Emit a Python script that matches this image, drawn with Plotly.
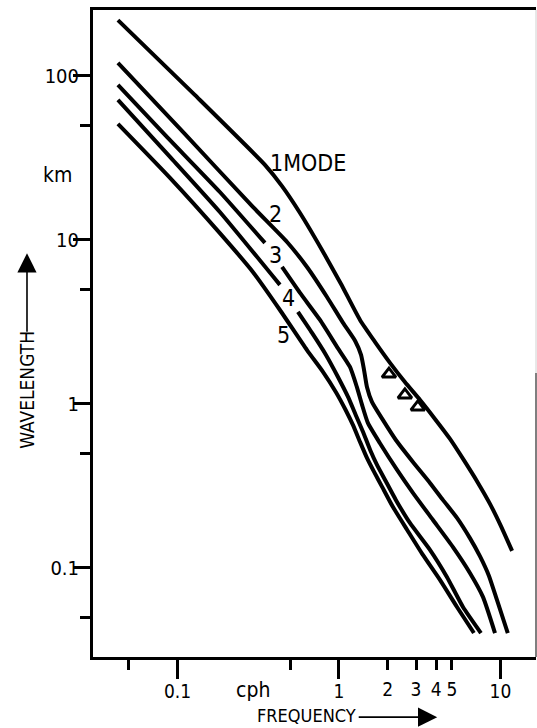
import numpy as np
import plotly.graph_objects as go

# ---- data: frequency (cph) vs wavelength (km) for modes 1..5
freq1 = [0.0428, 0.128, 0.348, 0.444, 0.574, 0.785, 1.03, 1.35, 1.67, 2.07, 2.56, 3.17,
         3.93, 4.87, 6.03, 7.26, 8.61, 10.07, 11.8]
wave1 = [219, 76.6, 28.7, 21.3, 14.6, 8.69, 5.39, 3.25, 2.39, 1.78, 1.36, 1.06,
         0.810, 0.612, 0.443, 0.330, 0.246, 0.180, 0.127]

freq2 = [0.0428, 0.111, 0.293, 0.477, 0.634, 0.843, 1.06, 1.26, 1.37, 1.43, 1.49, 1.60,
         1.87, 2.25, 2.87, 3.66, 4.40, 5.38, 6.47, 7.46, 8.49, 9.51, 11.1]
wave2 = [120, 44.3, 15.9, 9.72, 6.84, 4.49, 3.12, 2.42, 1.99, 1.61, 1.27, 1.03,
         0.799, 0.603, 0.443, 0.330, 0.260, 0.202, 0.152, 0.118, 0.0894, 0.0638, 0.0401]

freq3 = [0.0428, 0.0837, 0.183, 0.348, None, 0.444, 0.574, 0.763, 0.972, 1.17, 1.29, 1.39,
         1.51, 1.79, 2.29, 2.87, 3.82, 5.08, 6.47, 7.79, 9.25]
wave3 = [88.1, 43.7, 19.6, 9.59, None, 6.84, 4.75, 3.25, 2.23, 1.68, 1.27, 0.986,
         0.766, 0.578, 0.396, 0.287, 0.196, 0.134, 0.0932, 0.0666, 0.0401]

freq4 = [0.0428, 0.0899, 0.183, 0.431, None, 0.557, 0.681, 0.831, 0.986, 1.14, 1.27, 1.41,
         1.56, 1.72, 1.93, 2.25, 2.75, 3.66, 4.66, 5.86, 7.57]
wave4 = [71.4, 32.1, 14.8, 5.32, None, 3.64, 2.71, 1.99, 1.46, 1.10, 0.857, 0.675,
         0.524, 0.425, 0.344, 0.260, 0.188, 0.129, 0.0881, 0.0578, 0.0401]

freq5 = [0.0428, 0.0899, 0.183, 0.293, 0.431, 0.634, 0.796, 0.958, 1.10, 1.22, 1.35, 1.49,
         1.65, 1.85, 2.16, 2.64, 3.31, 4.22, 5.38, 6.85]
wave5 = [51.0, 23.9, 11.0, 6.38, 3.74, 2.13, 1.57, 1.18, 0.919, 0.745, 0.587, 0.469,
         0.385, 0.312, 0.235, 0.171, 0.120, 0.0845, 0.0578, 0.0401]

# observed points (triangles)
obs_freq = [2.04, 2.56, 3.08]
obs_wave = [1.52, 1.135, 0.959]

# curve labels
label_text = ["1MODE", "2", "3", "4", "5"]
label_freq = [0.363, 0.407, 0.402, 0.490, 0.456]
label_wave = [29.5, 14.4, 8.10, 4.43, 2.63]

xmajor_vals = [0.1, 1, 10]
xmajor_text = ["0.1", "1", "10"]
xminor_vals = [0.05, 0.5, 2, 3, 4, 5]
xsub_vals = [2, 3, 4, 5]
xsub_text = ["2", "3", "4", "5"]
ymajor_vals = [0.1, 1, 10, 100]
ymajor_text = ["0.1", "1", "10", "100"]
yminor_vals = [0.05, 0.5, 5, 50]

FONT = "DejaVu Sans Condensed, DejaVu Sans, sans-serif"

fig = go.Figure()
for f, w in [(freq1, wave1), (freq2, wave2), (freq3, wave3), (freq4, wave4), (freq5, wave5)]:
    fig.add_trace(go.Scatter(x=f, y=w, mode="lines", connectgaps=False,
                             line=dict(color="black", width=4, shape="spline", smoothing=0.5),
                             showlegend=False, hoverinfo="skip"))
fig.add_trace(go.Scatter(x=obs_freq, y=obs_wave, mode="markers", showlegend=False,
                         marker=dict(symbol="triangle-up-open", size=12, color="black",
                                     line=dict(width=3, color="black")),
                         hoverinfo="skip"))
# invisible trace for the secondary x axis (labels 2..5)
fig.add_trace(go.Scatter(x=[obs_freq[0]], y=[obs_wave[0]], xaxis="x2", mode="markers",
                         marker=dict(opacity=0), showlegend=False, hoverinfo="skip"))

xr = [-1.523, 1.220]
yr = [-1.543, 2.402]

fig.update_layout(
    width=537, height=728,
    margin=dict(l=93, r=1, t=10, b=71),
    paper_bgcolor="white", plot_bgcolor="white",
    font=dict(family=FONT, color="black", size=20),
    xaxis=dict(type="log", range=xr, showgrid=False, zeroline=False,
               showline=True, linewidth=3, linecolor="black", mirror=True,
               ticks="outside", ticklen=19, tickwidth=2.5, tickcolor="black",
               tickvals=xmajor_vals, ticktext=xmajor_text, ticklabelstandoff=-4,
               tickfont=dict(size=19, family=FONT),
               minor=dict(tickvals=xminor_vals, ticks="outside", ticklen=10,
                          tickwidth=2.5, tickcolor="black", showgrid=False)),
    xaxis2=dict(type="log", range=xr, overlaying="x", anchor="y", side="bottom",
                showgrid=False, zeroline=False, showline=False,
                ticks="outside", ticklen=19, tickcolor="rgba(0,0,0,0)",
                tickvals=xsub_vals, ticktext=xsub_text, ticklabelstandoff=-4,
                tickfont=dict(size=19, family=FONT)),
    yaxis=dict(type="log", range=yr, showgrid=False, zeroline=False,
               showline=True, linewidth=3, linecolor="black",
               ticks="outside", ticklen=17, tickwidth=2.5, tickcolor="black",
               tickvals=ymajor_vals, ticktext=ymajor_text, ticklabelstandoff=-10,
               tickfont=dict(size=20, family=FONT),
               minor=dict(tickvals=yminor_vals, ticks="outside", ticklen=10,
                          tickwidth=2.5, tickcolor="black", showgrid=False)),
)

ann = []
for t, f, w in zip(label_text, label_freq, label_wave):
    ann.append(dict(x=np.log10(f), y=np.log10(w), xref="x", yref="y", text=t,
                    showarrow=False, xanchor="left" if len(t) > 1 else "center",
                    yanchor="middle", font=dict(size=23, family=FONT)))
# unit labels
ann.append(dict(x=-0.043, y=np.log10(24.9), xref="paper", yref="y", text="km",
                showarrow=False, xanchor="right", yanchor="middle", font=dict(size=21, family=FONT)))
ann.append(dict(x=np.log10(0.294), y=-0.030, xref="x", yref="paper", text="cph",
                showarrow=False, xanchor="center", yanchor="top", font=dict(size=21, family=FONT)))
# axis titles with arrows
ann.append(dict(x=-0.149, y=0.413, xref="paper", yref="paper", text="WAVELENGTH",
                textangle=-90, showarrow=False, xanchor="center", yanchor="middle",
                font=dict(size=19, family=FONT)))
ann.append(dict(x=-0.149, y=0.624, xref="paper", yref="paper", text="", showarrow=True,
                ax=0, ay=80, arrowhead=2, arrowsize=2.4, arrowwidth=1.6, arrowcolor="black"))
ann.append(dict(x=0.481, y=-0.091, xref="paper", yref="paper", text="FREQUENCY",
                showarrow=False, xanchor="center", yanchor="middle",
                font=dict(size=18, family=FONT)))
ann.append(dict(x=0.777, y=-0.093, xref="paper", yref="paper", text="", showarrow=True,
                ax=-80, ay=0, arrowhead=2, arrowsize=2.4, arrowwidth=1.6, arrowcolor="black"))
fig.update_layout(annotations=ann)

# right frame edge (faint above, darker lower part as in the scan)
fig.add_shape(type="line", xref="paper", yref="paper", x0=1, x1=1, y0=0.439, y1=1,
              line=dict(color="#d0d0d0", width=1))
fig.add_shape(type="line", xref="paper", yref="paper", x0=1, x1=1, y0=0, y1=0.439,
              line=dict(color="#555555", width=1.5))

fig.write_html("out.html")
